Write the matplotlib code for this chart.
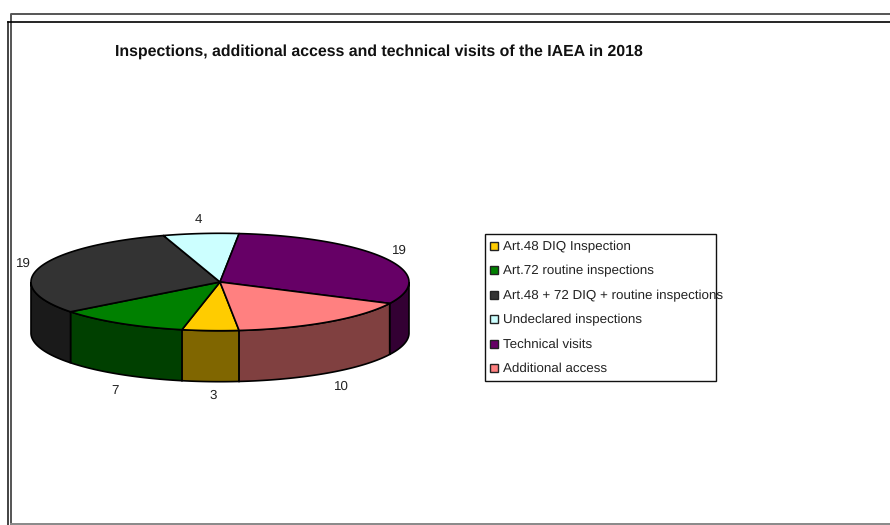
#!/usr/bin/env python3
# -*- coding: utf-8 -*-

import numpy as np
import matplotlib
matplotlib.use("Agg")
import matplotlib.pyplot as plt
from matplotlib.patches import Polygon, Rectangle

plt.rcParams['font.family'] = ['Liberation Sans', 'DejaVu Sans']
plt.rcParams['text.hinting'] = 'no_hinting'

categories = ['Art.48 DIQ Inspection', 'Art.72 routine inspections',
              'Art.48 + 72 DIQ + routine inspections', 'Undeclared inspections',
              'Technical visits', 'Additional access']
values = [3, 7, 19, 4, 19, 10]
top_colors = ['#FFCC00', '#008000', '#333333', '#CCFFFF', '#660066', '#FF8080']
side_colors = ['#806600', '#004000', '#1A1A1A', '#668080', '#330033', '#804040']
label_pos = [(213, 396), (115, 391), (23, 264), (198, 220), (399, 251), (341, 387)]

title = 'Inspections, additional access and technical visits of the IAEA in 2018'

# pie geometry in pixels
cx, cy = 220, 282
rx, ry = 189, 48.7
depth = 51
start_angle = 275.8


def rim(a0, a1):
    t = np.radians(np.linspace(a0, a1, 120))
    return np.column_stack([cx + rx * np.cos(t), cy - ry * np.sin(t)])


fig = plt.figure(figsize=(8.9, 5.25), dpi=100)
ax = fig.add_axes([0, 0, 1, 1])
ax.set_xlim(0, 890)
ax.set_ylim(525, 0)
ax.axis('off')

# frame lines
ax.plot([10.5, 10.5, 890], [525, 14, 14], color='#555555', lw=1.4)
ax.plot([7.5, 7.5], [21.5, 525], color='#222222', lw=1.2)
ax.plot([7.5, 890], [21.5, 21.5], color='black', lw=1.2)
ax.plot([10.5, 890], [524, 524], color='#888888', lw=1.4)

ax.text(379, 52, title, fontsize=11.48, fontweight='bold', ha='center', va='center', color='#111111')

# slices run clockwise from the start angle
spans = np.array(values) / sum(values) * 360
ends = start_angle - np.cumsum(spans)
starts = ends + spans

for a0, a1, col in zip(starts, ends, side_colors):
    # only the front half of the wall shows (angles 180..360, wrapped)
    for shift in (0, 360):
        lo = max(a1 + shift, 180)
        hi = min(a0 + shift, 360)
        if hi <= lo:
            continue
        edge = rim(lo, hi)
        wall = np.vstack([edge, edge[::-1] + [0, depth]])
        ax.add_patch(Polygon(wall, closed=True, fc=col, ec='black', lw=1.2))

for a0, a1, col in zip(starts, ends, top_colors):
    wedge = np.vstack([[cx, cy], rim(a0, a1)])
    ax.add_patch(Polygon(wedge, closed=True, fc=col, ec='black', lw=1.2, joinstyle='round'))

for (x, y), v in zip(label_pos, values):
    ax.text(x, y, str(v), fontsize=9.66, ha='center', va='center', color='#222222')

# legend box, text of the long entry runs past the border
ax.add_patch(Rectangle((485, 234), 231, 147, fc='white', ec='#111111', lw=1))
legend_y = [247, 271, 296, 320, 345, 369]
for y, name, col in zip(legend_y, categories, top_colors):
    ax.add_patch(Rectangle((490, y - 5), 8, 8, fc=col, ec='#222222', lw=1))
    ax.text(503, y, name, fontsize=9.66, ha='left', va='center', color='#222222')

plt.savefig('out.png', dpi=100)
